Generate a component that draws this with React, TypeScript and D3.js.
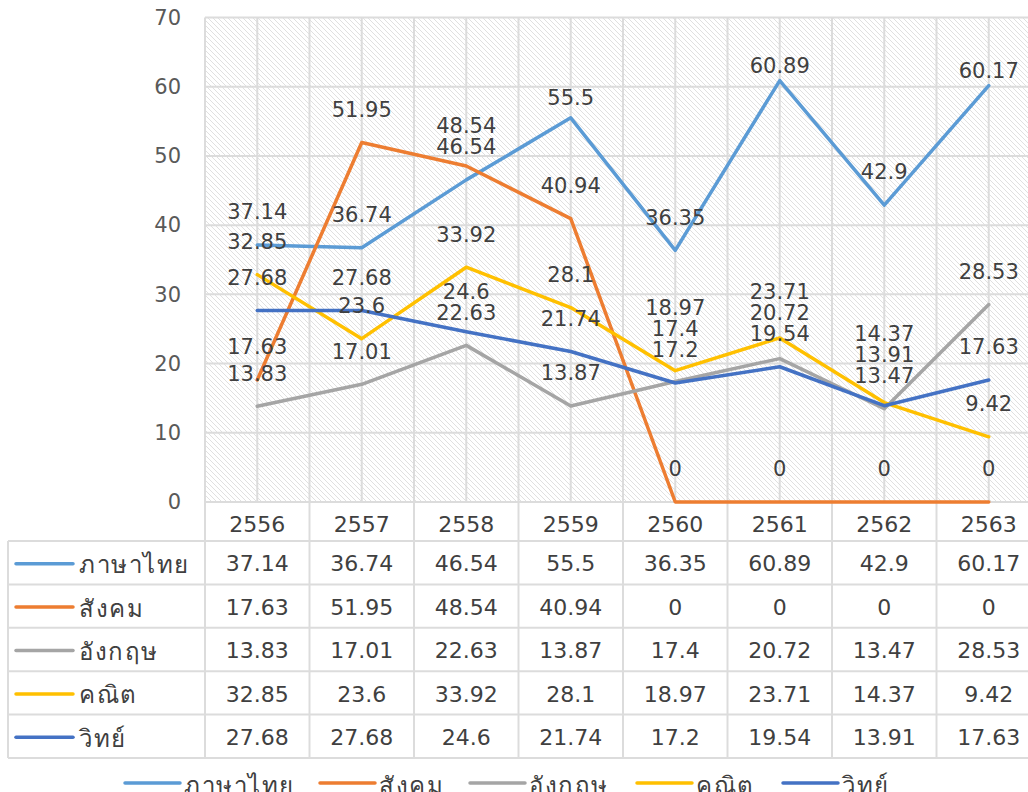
import React from 'react';
import * as d3 from 'd3';

const years = ['2556', '2557', '2558', '2559', '2560', '2561', '2562', '2563'];
const seriesNames = ['ภาษาไทย', 'สังคม', 'อังกฤษ', 'คณิต', 'วิทย์'];
const thai = [37.14, 36.74, 46.54, 55.5, 36.35, 60.89, 42.9, 60.17];
const social = [17.63, 51.95, 48.54, 40.94, 0, 0, 0, 0];
const english = [13.83, 17.01, 22.63, 13.87, 17.4, 20.72, 13.47, 28.53];
const math = [32.85, 23.6, 33.92, 28.1, 18.97, 23.71, 14.37, 9.42];
const science = [27.68, 27.68, 24.6, 21.74, 17.2, 19.54, 13.91, 17.63];
const yTicks = [0, 10, 20, 30, 40, 50, 60, 70];

const seriesValues = [thai, social, english, math, science];
const colors = ['#5B9BD5', '#ED7D31', '#A5A5A5', '#FFC000', '#4472C4'];

const W = 1028;
const H = 792;
const plotLeft = 205;
const catW = 104.5;
const plotRight = plotLeft + catW * years.length;
const plotTop = 17.5;
const plotBottom = 502;
const tableLeft = 8;
const headerBottom = 541;
const rowH = 43.4;
const font = "'DejaVu Sans', 'Noto Sans', sans-serif";
const gridColor = '#dcdcdc';
const textColor = '#404040';
const legendStarts = [125, 320, 470, 637, 783];

function labelOffset(py: number) {
  if (py < 100) return 15;
  if (py < 130) return 20;
  return 33;
}

export default function App() {
  const x = d3.scaleBand<string>().domain(years).range([plotLeft, plotRight]).padding(0);
  const y = d3.scaleLinear().domain([0, 70]).range([plotBottom, plotTop]);
  const cx = (i: number) => (x(years[i]) as number) + x.bandwidth() / 2;

  const line = d3
    .line<number>()
    .x((_, i) => cx(i))
    .y((v) => y(v));

  // data label layout: above the point, stack overlapping labels
  const labels: { x: number; y: number; text: string }[] = [];
  years.forEach((_, i) => {
    const items = seriesValues.map((vals, s) => {
      const py = y(vals[i]);
      return { s, v: vals[i], desired: py - labelOffset(py) };
    });
    items.sort((a, b) => b.desired - a.desired);
    // group into clusters of overlapping labels
    const placed: number[] = [];
    let prev = Infinity;
    items.forEach((it) => {
      const yy = Math.min(it.desired, prev - 21);
      prev = yy;
      placed.push(yy);
    });
    items.forEach((it, k) => {
      labels.push({ x: cx(i), y: placed[k], text: String(it.v) });
    });
  });

  const vGrid: number[] = [];
  for (let k = 0; k <= years.length * 2; k++) vGrid.push(plotLeft + (k * catW) / 2);

  const rowTop = (r: number) => headerBottom + r * rowH;
  const tableBottom = rowTop(seriesNames.length);

  return (
    <svg
      width={W}
      height={H}
      style={{ position: 'absolute', left: 0, top: 0, background: '#fff' }}
      fontFamily={font}
    >
      <defs>
        <pattern id="hatch" width="5" height="5" patternUnits="userSpaceOnUse">
          <rect width="5" height="5" fill="#fff" />
          <path d="M-1,-1 L6,6 M-1,4 L1,6 M4,-1 L6,1" stroke="#e0e0e0" strokeWidth="1" />
        </pattern>
      </defs>
      <rect x={0} y={0} width={W} height={H} fill="#fff" />
      {/* plot area */}
      <rect x={plotLeft} y={plotTop} width={plotRight - plotLeft} height={plotBottom - plotTop} fill="url(#hatch)" />
      {yTicks.map((t) => (
        <line key={'h' + t} x1={plotLeft} x2={plotRight} y1={y(t)} y2={y(t)} stroke={gridColor} strokeWidth={2} />
      ))}
      {vGrid.map((gx, k) => (
        <line key={'v' + k} x1={gx} x2={gx} y1={plotTop} y2={plotBottom} stroke={gridColor} strokeWidth={2} />
      ))}
      {/* y axis labels */}
      {yTicks.map((t) => (
        <text key={'yt' + t} x={181} y={y(t)} dy="0.35em" textAnchor="end" fontSize={21} fill="#595959">
          {t}
        </text>
      ))}
      {/* table grid */}
      <line x1={plotLeft} x2={plotRight} y1={plotBottom} y2={plotBottom} stroke={gridColor} strokeWidth={2} />
      {seriesNames.map((_, r) => (
        <line key={'tr' + r} x1={tableLeft} x2={plotRight} y1={rowTop(r)} y2={rowTop(r)} stroke={gridColor} strokeWidth={2} />
      ))}
      <line x1={tableLeft} x2={plotRight} y1={tableBottom} y2={tableBottom} stroke={gridColor} strokeWidth={2} />
      <line x1={tableLeft} x2={tableLeft} y1={headerBottom} y2={tableBottom} stroke={gridColor} strokeWidth={2} />
      {d3.range(years.length + 1).map((k) => (
        <line
          key={'tc' + k}
          x1={plotLeft + k * catW}
          x2={plotLeft + k * catW}
          y1={plotBottom}
          y2={tableBottom}
          stroke={gridColor}
          strokeWidth={2}
        />
      ))}
      {/* header years */}
      {years.map((yr, i) => (
        <text key={'yr' + yr} x={cx(i)} y={(plotBottom + headerBottom) / 2 + 3} dy="0.35em" textAnchor="middle" fontSize={22} fill={textColor}>
          {yr}
        </text>
      ))}
      {/* table rows */}
      {seriesNames.map((name, r) => {
        const cy = rowTop(r) + rowH / 2 + 1;
        return (
          <g key={'row' + r}>
            <line x1={16} x2={73} y1={cy} y2={cy} stroke={colors[r]} strokeWidth={3.5} strokeLinecap="round" />
            <text x={79} y={cy + 1} dy="0.35em" fontSize={24} letterSpacing={1.5} fill={textColor}>
              {name}
            </text>
            {seriesValues[r].map((v, i) => (
              <text key={i} x={cx(i)} y={cy} dy="0.35em" textAnchor="middle" fontSize={22} fill={textColor}>
                {v}
              </text>
            ))}
          </g>
        );
      })}
      {/* series lines */}
      {seriesValues.map((vals, s) => (
        <path
          key={'ln' + s}
          d={line(vals) as string}
          fill="none"
          stroke={colors[s]}
          strokeWidth={3.5}
          strokeLinejoin="round"
          strokeLinecap="round"
        />
      ))}
      {/* data labels */}
      {labels.map((l, k) => (
        <text key={'lb' + k} x={l.x} y={l.y} dy="0.35em" textAnchor="middle" fontSize={21} fill={textColor}>
          {l.text}
        </text>
      ))}
      {/* bottom legend */}
      {seriesNames.map((name, s) => (
        <g key={'lg' + s}>
          <line x1={legendStarts[s]} x2={legendStarts[s] + 55} y1={783} y2={783} stroke={colors[s]} strokeWidth={3.5} strokeLinecap="round" />
          <text x={legendStarts[s] + 59} y={786} dy="0.35em" fontSize={24} letterSpacing={1.5} fill={textColor}>
            {name}
          </text>
        </g>
      ))}
    </svg>
  );
}
